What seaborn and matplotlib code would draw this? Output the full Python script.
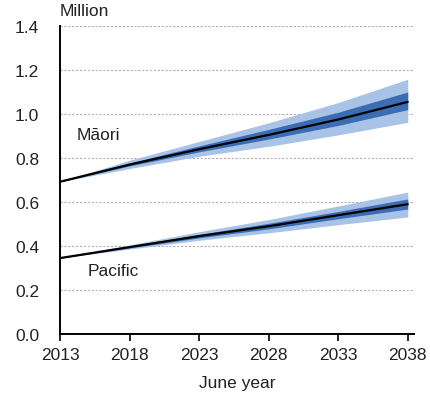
import matplotlib
matplotlib.use("Agg")
import matplotlib.pyplot as plt
import numpy as np
import pandas as pd
import seaborn as sns

years = [2013, 2018, 2023, 2028, 2033, 2038]

maori_median = [0.692, 0.770, 0.840, 0.905, 0.975, 1.055]
maori_inner_lo = [0.692, 0.764, 0.828, 0.886, 0.948, 1.020]
maori_inner_hi = [0.692, 0.778, 0.855, 0.930, 1.008, 1.100]
maori_outer_lo = [0.692, 0.752, 0.808, 0.853, 0.905, 0.962]
maori_outer_hi = [0.692, 0.790, 0.875, 0.960, 1.052, 1.158]

pacific_median = [0.345, 0.395, 0.445, 0.490, 0.540, 0.590]
pacific_inner_lo = [0.345, 0.391, 0.437, 0.478, 0.524, 0.568]
pacific_inner_hi = [0.345, 0.399, 0.453, 0.503, 0.557, 0.614]
pacific_outer_lo = [0.345, 0.386, 0.426, 0.460, 0.497, 0.532]
pacific_outer_hi = [0.345, 0.405, 0.465, 0.520, 0.582, 0.645]

y_ticks = [0.0, 0.2, 0.4, 0.6, 0.8, 1.0, 1.2, 1.4]
x_ticks = [2013, 2018, 2023, 2028, 2033, 2038]

sns.set_style("white")
plt.rcParams["font.family"] = ["Liberation Sans", "DejaVu Sans"]

fig = plt.figure(figsize=(4.31, 4.06), dpi=100)
ax = fig.add_axes([60 / 431, 1 - 335 / 406, (414 - 60) / 431, (335 - 27) / 406])

outer_col = "#a9c3e6"
inner_col = "#3a6db3"
text_col = "#222222"
fs = 12.5

df = pd.DataFrame({
    "year": years * 2,
    "value": maori_median + pacific_median,
    "group": ["Māori"] * len(years) + ["Pacific"] * len(years),
})

for lo, hi, ilo, ihi in [
    (maori_outer_lo, maori_outer_hi, maori_inner_lo, maori_inner_hi),
    (pacific_outer_lo, pacific_outer_hi, pacific_inner_lo, pacific_inner_hi),
]:
    ax.fill_between(years, lo, hi, color=outer_col, lw=0, zorder=2)
    ax.fill_between(years, ilo, ihi, color=inner_col, lw=0, zorder=3)

sns.lineplot(data=df, x="year", y="value", units="group", estimator=None,
             color="black", lw=1.6, ax=ax, zorder=4)

for y in y_ticks[1:]:
    ax.axhline(y, color="#bba8bb", lw=0.8, ls=(0, (2, 1.5)), zorder=1)

ax.set_xlim(2013, 2038.45)
ax.set_ylim(0, 1.4)
ax.set_xticks(x_ticks)
ax.set_yticks(y_ticks)
ax.set_yticklabels([f"{v:.1f}" for v in y_ticks])
ax.tick_params(axis="x", length=5, width=1.2, direction="out", color="black",
               labelsize=fs, pad=4, bottom=True)
ax.tick_params(axis="y", length=0, labelsize=fs, pad=15)
for lab in ax.get_xticklabels() + ax.get_yticklabels():
    lab.set_color(text_col)

for side in ["top", "right"]:
    ax.spines[side].set_visible(False)
for side in ["left", "bottom"]:
    ax.spines[side].set_color("black")
    ax.spines[side].set_linewidth(1.4)

ax.set_xlabel("June year", fontsize=fs, labelpad=10, color=text_col)
ax.set_ylabel("")

ax.text(2014.2, 0.909, "Māori", fontsize=fs, color=text_col, va="center")
ax.text(2015.0, 0.289, "Pacific", fontsize=fs, color=text_col, va="center")
fig.text(60 / 431, 1 - 12 / 406, "Million", fontsize=fs, color=text_col,
         va="center", ha="left")

fig.savefig("out.png", dpi=100)
